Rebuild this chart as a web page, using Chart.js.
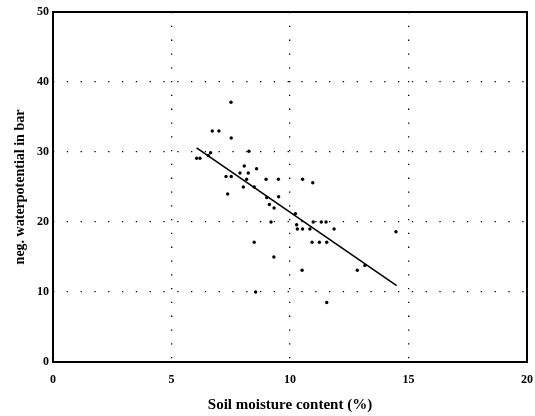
<!DOCTYPE html>
<html>
<head>
<meta charset="utf-8">
<script src="https://cdn.jsdelivr.net/npm/chart.js@4/dist/chart.umd.min.js"></script>
<style>
  html, body { margin: 0; padding: 0; background: #fff; }
  #wrap { width: 535px; height: 416px; position: relative; }
</style>
</head>
<body>
<div id="wrap"><canvas id="c" width="535" height="416"></canvas></div>
<script>
// Soil moisture content (%) of each sample
const moisture = [7.51, 6.72, 7.00, 7.52, 8.27, 6.06, 6.20, 6.55, 6.65, 8.07,
                  7.89, 8.24, 8.59, 7.30, 7.52, 8.17, 8.99, 9.51, 10.53, 10.96,
                  8.03, 8.49, 7.37, 9.02, 9.52, 9.13, 9.33, 10.23, 9.20, 10.98,
                  11.32, 11.52, 10.28, 10.31, 10.53, 10.84, 11.86, 14.47, 8.49, 10.93,
                  11.24, 11.55, 9.32, 10.51, 12.84, 13.16, 8.55, 11.55];
// Negative water potential (bar) of each sample
const potential = [37.1, 33.0, 33.0, 32.0, 30.1, 29.1, 29.1, 29.5, 29.9, 28.0,
                   27.0, 27.0, 27.6, 26.5, 26.5, 26.1, 26.1, 26.1, 26.1, 25.6,
                   25.0, 25.0, 24.0, 23.5, 23.6, 22.5, 22.0, 21.2, 20.0, 20.0,
                   20.0, 20.0, 19.6, 19.0, 19.0, 19.0, 19.0, 18.6, 17.1, 17.1,
                   17.1, 17.1, 15.0, 13.1, 13.1, 13.8, 10.0, 8.5];
// Regression line end points
const fitX = [6.06, 14.5];
const fitY = [30.6, 10.9];
// Axis ticks
const xTicks = [0, 5, 10, 15, 20];
const yTicks = [0, 10, 20, 30, 40, 50];

const pts = moisture.map((x, i) => ({ x: x, y: potential[i] }));
const fitPts = fitX.map((x, i) => ({ x: x, y: fitY[i] }));

const tickFont = { family: "'Liberation Serif', 'DejaVu Serif', serif", size: 12, weight: 'bold' };
const titleFont = { family: "'Liberation Serif', 'DejaVu Serif', serif", size: 15, weight: 'bold' };

const frame = {
  id: 'frame',
  afterDraw(chart) {
    const a = chart.chartArea, ctx = chart.ctx;
    ctx.save();
    ctx.strokeStyle = '#000';
    ctx.lineWidth = 2;
    ctx.strokeRect(a.left, a.top, a.right - a.left, a.bottom - a.top);
    ctx.restore();
  }
};

new Chart(document.getElementById('c'), {
  type: 'scatter',
  data: {
    datasets: [
      {
        label: 'samples',
        data: pts,
        pointRadius: 1.7,
        pointHoverRadius: 1.7,
        pointBackgroundColor: '#000',
        pointBorderColor: '#000',
        pointBorderWidth: 0,
        showLine: false
      },
      {
        label: 'fit',
        data: fitPts,
        showLine: true,
        pointRadius: 0,
        borderColor: '#000',
        borderWidth: 1.6,
        fill: false
      }
    ]
  },
  options: {
    responsive: false,
    animation: false,
    events: [],
    layout: { padding: { left: 0, right: 8, top: 12, bottom: 0 } },
    plugins: { legend: { display: false }, tooltip: { enabled: false } },
    scales: {
      x: {
        type: 'linear',
        min: 0, max: 20,
        afterBuildTicks(s) { s.ticks = xTicks.map(v => ({ value: v })); },
        afterFit(s) { s.height = 54; s.paddingLeft = 0; s.paddingRight = 0; },
        ticks: { color: '#000', font: tickFont, padding: 11, maxRotation: 0, autoSkip: false },
        grid: {
          color: (c) => (c.tick && (c.tick.value === 0 || c.tick.value === 20)) ? 'rgba(0,0,0,0)' : '#000',
          lineWidth: 1.3,
          drawTicks: false,
          tickLength: 0
        },
        border: { display: false, dash: [1.3, 12.5] },
        title: { display: true, text: 'Soil moisture content (%)', color: '#000', font: titleFont, padding: { top: 2, bottom: 2 } }
      },
      y: {
        type: 'linear',
        min: 0, max: 50,
        afterBuildTicks(s) { s.ticks = yTicks.map(v => ({ value: v })); },
        afterFit(s) { s.width = 53; },
        ticks: { color: '#000', font: tickFont, padding: 4, autoSkip: false },
        grid: {
          color: (c) => (c.tick && (c.tick.value === 0 || c.tick.value === 50)) ? 'rgba(0,0,0,0)' : '#000',
          lineWidth: 1.3,
          drawTicks: false,
          tickLength: 0
        },
        border: { display: false, dash: [1.3, 12.5] },
        title: { display: true, text: 'neg. waterpotential in bar', color: '#000', font: { family: titleFont.family, size: 14, weight: 'bold' }, padding: { top: 12, bottom: 0 } }
      }
    }
  },
  plugins: [frame]
});
</script>
</body>
</html>
